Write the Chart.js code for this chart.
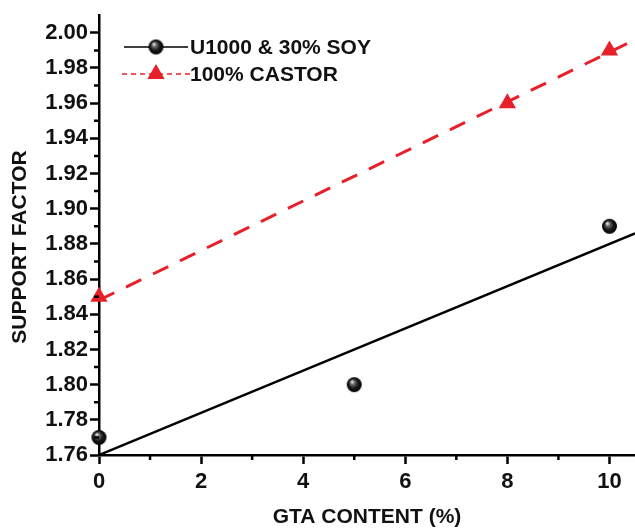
<!DOCTYPE html>
<html>
<head>
<meta charset="utf-8">
<script src="https://cdn.jsdelivr.net/npm/chart.js@4/dist/chart.umd.min.js"></script>
<style>
  html, body { margin: 0; padding: 0; background: #fff; }
  #wrap { width: 635px; height: 528px; }
</style>
</head>
<body>
<div id="wrap"><canvas id="chartSupport" width="635" height="528"></canvas></div>
<script>
// dados
const soyX = [0, 5, 10];
const soyY = [1.77, 1.80, 1.89];
const castorX = [0, 8, 10];
const castorY = [1.85, 1.96, 1.99];
const fitX = [0, 10.5];
const soyFitY = [1.76, 1.886];
const castorFitY = [1.848, 1.996];
const xTicks = [0, 2, 4, 6, 8, 10];
const xMinorTicks = [1, 3, 5, 7, 9];
const yTicks = [1.76, 1.78, 1.80, 1.82, 1.84, 1.86, 1.88, 1.90, 1.92, 1.94, 1.96, 1.98, 2.00];
const yMinorTicks = [1.77, 1.79, 1.81, 1.83, 1.85, 1.87, 1.89, 1.91, 1.93, 1.95, 1.97, 1.99];
const seriesNames = ['U1000 & 30% SOY', '100% CASTOR'];
const yTitle = 'SUPPORT FACTOR';

const FONT = "'Liberation Sans', Arial, Helvetica, sans-serif";
const RED = '#e8202a';

function pares(xs, ys) {
    return xs.map((x, i) => ({ x: x, y: ys[i] }));
}

// esfera preta com brilho
function criarEsfera(r) {
    const c = document.createElement('canvas');
    const s = Math.ceil(r * 2 + 2);
    c.width = s; c.height = s;
    const g = c.getContext('2d');
    const cx = s / 2, cy = s / 2;
    const grad = g.createRadialGradient(cx - r * 0.3, cy - r * 0.4, 0.5, cx, cy, r);
    grad.addColorStop(0, '#e8e8e8');
    grad.addColorStop(0.25, '#6a6a6a');
    grad.addColorStop(0.6, '#1a1a1a');
    grad.addColorStop(1, '#000');
    g.fillStyle = grad;
    g.beginPath();
    g.arc(cx, cy, r, 0, Math.PI * 2);
    g.fill();
    return c;
}
const esfera = criarEsfera(7.5);

// ticks menores, título do eixo Y e legenda interna
const extrasPlugin = {
    id: 'extras',
    afterDraw(chart) {
        const ctx = chart.ctx;
        const xs = chart.scales.x, ys = chart.scales.y;
        const area = chart.chartArea;
        ctx.save();
        ctx.strokeStyle = '#000';
        ctx.lineWidth = 2.5;
        ctx.beginPath();
        xMinorTicks.forEach(v => {
            const px = xs.getPixelForValue(v);
            ctx.moveTo(px, area.bottom);
            ctx.lineTo(px, area.bottom + 5);
        });
        yMinorTicks.forEach(v => {
            const py = ys.getPixelForValue(v);
            ctx.moveTo(area.left, py);
            ctx.lineTo(area.left - 5, py);
        });
        ctx.stroke();

        // título Y
        ctx.save();
        ctx.translate(20, 247);
        ctx.rotate(-Math.PI / 2);
        ctx.fillStyle = '#111';
        ctx.font = 'bold 21px ' + FONT;
        ctx.textAlign = 'center';
        ctx.textBaseline = 'middle';
        ctx.fillText(yTitle, 0, 0);
        ctx.restore();

        // legenda
        const lx = 124, ly1 = 47, ly2 = 74;
        ctx.lineWidth = 1.5;
        ctx.strokeStyle = '#000';
        ctx.beginPath();
        ctx.moveTo(lx, ly1); ctx.lineTo(lx + 64, ly1);
        ctx.stroke();
        ctx.drawImage(esfera, lx + 32 - esfera.width / 2, ly1 - esfera.height / 2);

        ctx.strokeStyle = RED;
        ctx.setLineDash([5, 4]);
        ctx.beginPath();
        ctx.moveTo(lx - 2, ly2); ctx.lineTo(lx + 66, ly2);
        ctx.stroke();
        ctx.setLineDash([]);
        ctx.fillStyle = RED;
        const r = 10;
        ctx.beginPath();
        ctx.moveTo(lx + 32, ly2 - r);
        ctx.lineTo(lx + 32 + r * 0.866, ly2 + r * 0.5);
        ctx.lineTo(lx + 32 - r * 0.866, ly2 + r * 0.5);
        ctx.closePath();
        ctx.fill();

        ctx.fillStyle = '#111';
        ctx.font = 'bold 21px ' + FONT;
        ctx.textBaseline = 'middle';
        ctx.fillText(seriesNames[0], lx + 66, ly1 + 1);
        ctx.fillText(seriesNames[1], lx + 66, ly2 + 1);
        ctx.restore();
    }
};

new Chart(document.getElementById('chartSupport'), {
    type: 'scatter',
    data: {
        datasets: [
            {
                label: seriesNames[0] + ' fit',
                data: pares(fitX, soyFitY),
                showLine: true,
                borderColor: '#000',
                borderWidth: 2.5,
                pointRadius: 0,
                order: 3
            },
            {
                label: seriesNames[1] + ' fit',
                data: pares(fitX, castorFitY),
                showLine: true,
                borderColor: RED,
                borderWidth: 3,
                borderDash: [17, 13],
                pointRadius: 0,
                order: 3
            },
            {
                label: seriesNames[0],
                data: pares(soyX, soyY),
                pointStyle: esfera,
                pointRadius: 8,
                clip: false,
                order: 1
            },
            {
                label: seriesNames[1],
                data: pares(castorX, castorY),
                pointStyle: 'triangle',
                pointRadius: 10,
                backgroundColor: RED,
                borderColor: RED,
                borderWidth: 0,
                clip: false,
                order: 1
            }
        ]
    },
    options: {
        responsive: false,
        animation: false,
        layout: { autoPadding: false, padding: { top: 14, right: 0, left: 0, bottom: 0 } },
        plugins: {
            legend: { display: false },
            tooltip: { enabled: false }
        },
        scales: {
            x: {
                type: 'linear',
                min: 0,
                max: 10.5,
                afterBuildTicks: s => { s.ticks = xTicks.map(v => ({ value: v })); },
                afterFit: s => { s.height = 73; },
                grid: { drawOnChartArea: false, drawTicks: true, tickLength: 9, tickWidth: 2.5, tickColor: '#000' },
                border: { display: true, color: '#000', width: 2.5 },
                ticks: {
                    color: '#111',
                    padding: 5,
                    maxRotation: 0,
                    font: { family: FONT, size: 22, weight: 'bold' }
                },
                title: {
                    display: true,
                    text: 'GTA CONTENT (%)',
                    color: '#111',
                    padding: { top: 0, bottom: -2 },
                    font: { family: FONT, size: 21, weight: 'bold' }
                }
            },
            y: {
                type: 'linear',
                min: 1.76,
                max: 2.01,
                afterBuildTicks: s => { s.ticks = yTicks.map(v => ({ value: v })); },
                afterFit: s => { s.width = 99; },
                grid: { drawOnChartArea: false, drawTicks: true, tickLength: 9, tickWidth: 2.5, tickColor: '#000' },
                border: { display: true, color: '#000', width: 2.5 },
                ticks: {
                    color: '#111',
                    padding: 2,
                    callback: v => v.toFixed(2),
                    font: { family: FONT, size: 22, weight: 'bold' }
                }
            }
        }
    },
    plugins: [extrasPlugin]
});
</script>
</body>
</html>
